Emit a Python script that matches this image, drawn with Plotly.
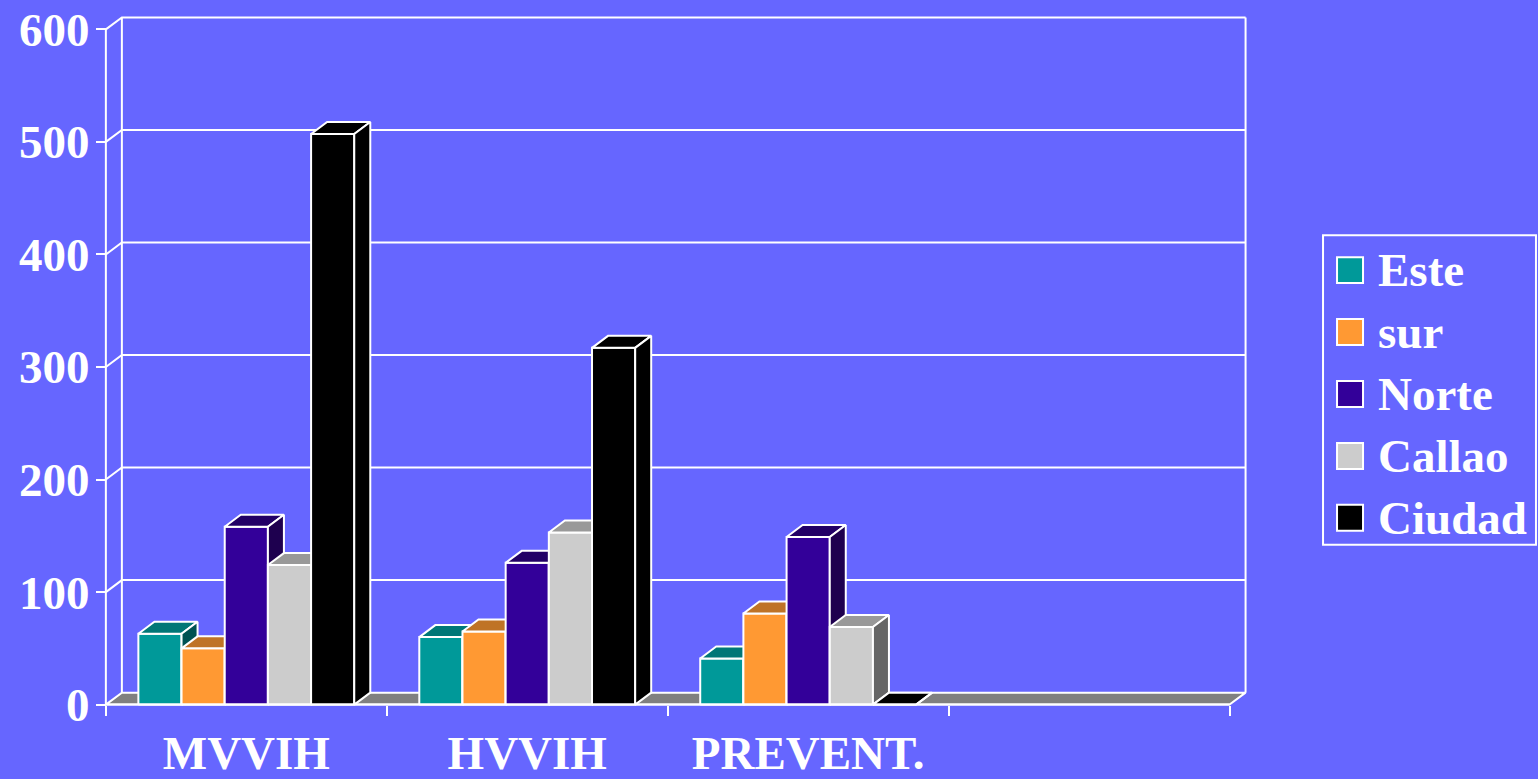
import plotly.graph_objects as go

# ---------------- data ----------------
categories = ["MVVIH", "HVVIH", "PREVENT.", ""]
series_names = ["Este", "sur", "Norte", "Callao", "Ciudad"]
este = [63, 60, 41, None]
sur = [50, 65, 81, None]
norte = [158, 126, 149, None]
callao = [124, 153, 69, None]
ciudad = [507, 317, 0, None]
y_ticks = [0, 100, 200, 300, 400, 500, 600]

series_values = [este, sur, norte, callao, ciudad]

# ---------------- style ----------------
BG = "#6666FF"
front_colors = ["#009999", "#FF9933", "#330099", "#CCCCCC", "#000000"]
top_colors = ["#007777", "#BF7326", "#220066", "#999999", "#000000"]
side_colors = ["#005252", "#8A5218", "#1E004F", "#666666", "#000000"]
FLOOR = "#808080"
WHITE = "white"
FONT = dict(family="Liberation Serif, Times New Roman, serif", size=47, color=WHITE, weight="bold")

BAR_W = 0.1537      # width of one bar in category units
DX = 0.057          # depth offset, x (category units)
DY = 10.65          # depth offset, y (value units)

# pixel geometry
W, H = 1538, 779
PX_PER_X = 281.0
PX_PER_Y = 1.1267
X0_PX = 105.5       # pixel of x = -0.5
Y0_PX = 705.0       # pixel of y = 0
x_range = [-0.56, len(categories) - 0.5 + DX + 0.03]
y_range = [-3, y_ticks[-1] + DY + 3]
ml = X0_PX - (-0.5 - x_range[0]) * PX_PER_X
pw = (x_range[1] - x_range[0]) * PX_PER_X
mr = W - ml - pw
mb = H - (Y0_PX + (0 - y_range[0]) * PX_PER_Y)
ph = (y_range[1] - y_range[0]) * PX_PER_Y
mt = H - mb - ph


def px_to_paper_x(px):
    return (px - ml) / pw


def px_to_paper_y(py):
    return (H - mb - py) / ph


fig = go.Figure()


def poly(xs, ys, fill, width=2):
    fig.add_trace(go.Scatter(
        x=xs + [xs[0]], y=ys + [ys[0]], mode="lines", fill="toself",
        fillcolor=fill, line=dict(color=WHITE, width=width),
        hoverinfo="skip", showlegend=False))


def lines(xs, ys, width=2):
    fig.add_trace(go.Scatter(
        x=xs, y=ys, mode="lines", line=dict(color=WHITE, width=width),
        hoverinfo="skip", showlegend=False))


xl, xr = -0.5, len(categories) - 0.5
ytop = y_ticks[-1]

# floor
poly([xl, xr, xr + DX, xl + DX], [0, 0, DY, DY], FLOOR)

# back wall / left wall grid
gx, gy = [], []
for v in y_ticks[1:]:
    gx += [xl, xl + DX, xr + DX, None]
    gy += [v, v + DY, v + DY, None]
lines(gx, gy)
# wall edges
lines([xl + DX, xl + DX], [DY, ytop + DY])
lines([xr + DX, xr + DX], [DY, ytop + DY])
lines([xl, xl], [0, ytop])

# bars (front, top, side) in painter's order
n = len(series_names)
for j in range(len(categories)):
    for i in range(n):
        v = series_values[i][j]
        if v is None:
            continue
        x0 = j + (i - n / 2) * BAR_W
        x1 = x0 + BAR_W
        poly([x0, x1, x1, x0], [0, 0, v, v], front_colors[i])
        poly([x0, x1, x1 + DX, x0 + DX], [v, v, v + DY, v + DY], top_colors[i])
        poly([x1, x1 + DX, x1 + DX, x1], [0, DY, v + DY, v], side_colors[i])

# front floor edge drawn last
lines([xl, xr], [0, 0])

# dummy trace for the tick axis
fig.add_trace(go.Scatter(x=[None], y=[None], xaxis="x2", yaxis="y",
                         showlegend=False, hoverinfo="skip"))

# ---------------- manual legend ----------------
shapes = []
annotations = []
shapes.append(dict(type="rect", xref="paper", yref="paper",
                   x0=px_to_paper_x(1323), x1=px_to_paper_x(1536),
                   y0=px_to_paper_y(545), y1=px_to_paper_y(235),
                   line=dict(color=WHITE, width=2), fillcolor=BG, layer="below"))
for k, name in enumerate(series_names):
    cy = 270 + k * 62
    shapes.append(dict(type="rect", xref="paper", yref="paper",
                       x0=px_to_paper_x(1337), x1=px_to_paper_x(1363),
                       y0=px_to_paper_y(cy + 13), y1=px_to_paper_y(cy - 13),
                       line=dict(color=WHITE, width=2), fillcolor=front_colors[k]))
    annotations.append(dict(text=name, xref="paper", yref="paper",
                            x=px_to_paper_x(1376), y=px_to_paper_y(cy),
                            xanchor="left", yanchor="middle", showarrow=False,
                            font=FONT))

fig.update_layout(
    template="none",
    width=W, height=H,
    margin=dict(l=ml, r=mr, t=mt, b=mb, pad=0),
    paper_bgcolor=BG, plot_bgcolor=BG,
    showlegend=False,
    xaxis=dict(range=x_range, tickvals=list(range(len(categories))), ticktext=categories,
               ticks="", showgrid=False, zeroline=False, showline=False,
               anchor="free", position=px_to_paper_y(Y0_PX), tickfont=FONT,
               ticklabelstandoff=16, automargin=False, fixedrange=True),
    xaxis2=dict(range=x_range, overlaying="x", anchor="free", position=px_to_paper_y(Y0_PX),
                tickvals=[k - 0.5 for k in range(len(categories) + 1)],
                ticks="outside", ticklen=10, tickwidth=2, tickcolor=WHITE,
                showticklabels=False, showgrid=False, zeroline=False, showline=False,
                automargin=False, fixedrange=True),
    yaxis=dict(range=y_range, tickvals=y_ticks, ticks="outside", ticklen=10, tickwidth=2,
               tickcolor=WHITE, showgrid=False, zeroline=False, showline=False,
               anchor="free", position=px_to_paper_x(X0_PX), tickfont=FONT,
               ticklabelstandoff=-3, automargin=False, fixedrange=True),
    shapes=shapes,
    annotations=annotations,
)

fig.write_html(
    "out.html",
    config={"displayModeBar": False},
    post_script="document.body.style.margin='0';document.body.style.overflow='hidden';"
                "document.body.style.background='" + BG + "';",
)
